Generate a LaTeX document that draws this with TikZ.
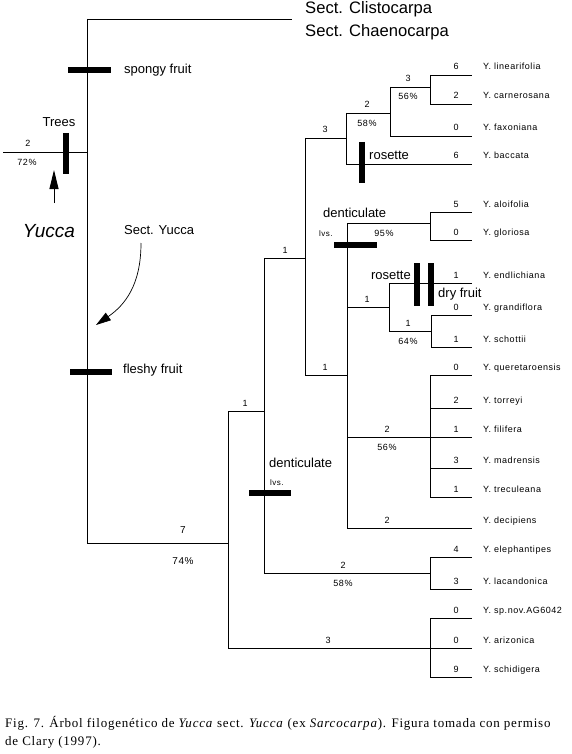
\documentclass[tikz,border=0pt]{standalone}
\usepackage{fontspec}
\setmainfont{Liberation Serif}
\newfontfamily\arial{Liberation Sans}
\newfontfamily\tipfont[LetterSpace=6]{Liberation Sans}
\newfontfamily\capfont[LetterSpace=6]{Liberation Serif}
\usetikzlibrary{arrows.meta}
\begin{document}
\begin{tikzpicture}[x=1pt,y=-1pt,
  br/.style={line width=0.9pt},
  bar/.style={line width=5.5pt},
  num/.style={font=\tipfont\fontsize{9}{10}\selectfont, inner sep=0pt, anchor=base},
  tip/.style={font=\tipfont\fontsize{9}{10}\selectfont, inner sep=0pt, anchor=base west},
  lab/.style={font=\arial\fontsize{13}{15}\selectfont, inner sep=0pt},
  small/.style={font=\tipfont\fontsize{8}{9}\selectfont, inner sep=0pt, anchor=base west},
  sect/.style={font=\arial\fontsize{16.6}{18}\selectfont, inner sep=0pt, anchor=west},
  captext/.style={font=\capfont\fontsize{13}{14}\selectfont, inner sep=0pt, anchor=base west}]
\useasboundingbox (0,0) rectangle (572,754);

% internal nodes
\coordinate (R0) at (3,152);
\coordinate (R) at (87,152);
\coordinate (top) at (292,19);
\coordinate (A) at (228,543);
\coordinate (B) at (264,411);
\coordinate (C) at (305,258);
\coordinate (D) at (346,138);
\coordinate (F) at (390,113);
\coordinate (H) at (430,87);
\coordinate (E) at (347,375);
\coordinate (I) at (430,223);
\coordinate (J) at (389,307);
\coordinate (L) at (431,331);
\coordinate (K) at (430,437);
\coordinate (G2) at (430,573);
\coordinate (G3) at (430,648);

% leaves
\foreach \n/\y/\v/\t in {
  lin/75/6/Y. linearifolia, car/104/2/Y. carnerosana, fax/136/0/Y. faxoniana,
  bac/164/6/Y. baccata, alo/212/5/Y. aloifolia, glo/240/0/Y. gloriosa,
  end/283/1/Y. endlichiana, gra/315/0/Y. grandiflora, sch/347/1/Y. schottii,
  que/375/0/Y. queretaroensis, tor/408/2/Y. torreyi, fil/437/1/Y. filifera,
  mad/468/3/Y. madrensis, tre/497/1/Y. treculeana,
  ele/557/4/Y. elephantipes, lac/589/3/Y. lacandonica,
  spn/618/0/Y. sp.nov.AG6042, ari/648/0/Y. arizonica, sci/677/9/Y. schidigera}{
  \coordinate (\n) at (472,\y);
  \node[num] (\n-v) at (456,\y-5) {\v};
  \node[tip] (\n-t) at (483,\y-5) {\t};
}
\coordinate (dec) at (472,528);
\node[tip] (dec-t) at (483,523) {Y. decipiens};

% branches
\draw[br] (R0) -- (R);
\draw[br] (R |- top) -- (top);
\draw[br] (R |- top) -- (R |- A) -- (A);
\draw[br] (A |- B) -- (B);
\draw[br] (A |- B) -- (A |- G3) -- (G3);
\draw[br] (B |- C) -- (C);
\draw[br] (B |- C) -- (B |- G2) -- (G2);
\draw[br] (C |- D) -- (D);
\draw[br] (C |- D) -- (C |- E) -- (E);
\draw[br] (D |- F) -- (F);
\draw[br] (D |- F) -- (D |- bac) -- (bac);
\draw[br] (F |- H) -- (H);
\draw[br] (F |- H) -- (F |- fax) -- (fax);
\draw[br] (H |- lin) -- (lin);
\draw[br] (H |- lin) -- (H |- car) -- (car);
\draw[br] (E |- I) -- (I);
\draw[br] (E |- I) -- (E |- dec) -- (dec);
\draw[br] (E |- J) -- (J);
\draw[br] (E |- K) -- (K);
\draw[br] (I |- alo) -- (alo);
\draw[br] (I |- alo) -- (I |- glo) -- (glo);
\draw[br] (J |- end) -- (end);
\draw[br] (J |- end) -- (J |- L) -- (L);
\draw[br] (L |- gra) -- (gra);
\draw[br] (L |- gra) -- (L |- sch) -- (sch);
\draw[br] (K |- que) -- (que);
\draw[br] (K |- que) -- (K |- tre) -- (tre);
\draw[br] (K |- tor) -- (tor);
\draw[br] (K |- fil) -- (fil);
\draw[br] (K |- mad) -- (mad);
\draw[br] (G2 |- ele) -- (ele);
\draw[br] (G2 |- ele) -- (G2 |- lac) -- (lac);
\draw[br] (G3 |- spn) -- (spn);
\draw[br] (G3 |- spn) -- (G3 |- sci) -- (sci);
\draw[br] (G3 |- ari) -- (ari);

% branch support labels
\node[num] (nR) at (28,147) {2};
\node[num] (pR) at (27,165.5) {72\%};
\node[num, font=\tipfont\fontsize{10}{11}\selectfont] (nA) at (183,533) {7};
\node[num, font=\tipfont\fontsize{10}{11}\selectfont] (pA) at (183,564) {74\%};
\node[num] (nB) at (245,406) {1};
\node[num] (nC) at (285,253) {1};
\node[num] (nD) at (325,133) {3};
\node[num] (nE) at (325,370) {1};
\node[num] (nF) at (367,108) {2};
\node[num] (pF) at (367,126.5) {58\%};
\node[num] (nH) at (408,82) {3};
\node[num] (pH) at (408,100) {56\%};
\node[num] (pI) at (384,236.5) {95\%};
\node[num] (nJ) at (367,302) {1};
\node[num] (nL) at (408,326) {1};
\node[num] (pL) at (408,344.5) {64\%};
\node[num] (nK) at (387,432) {2};
\node[num] (pK) at (387,450.5) {56\%};
\node[num] (ndec) at (387,523) {2};
\node[num] (nG2) at (343,568) {2};
\node[num] (pG2) at (343,586.5) {58\%};
\node[num] (nG3) at (328,643) {3};

% character bars
\draw[bar] (68,70) -- (111,70);
\draw[bar] (66,133) -- (66,174);
\draw[bar] (70,372) -- (112,372);
\draw[bar] (362,142) -- (362,183);
\draw[bar] (334,245) -- (377,245);
\draw[bar] (417,263) -- (417,306);
\draw[bar] (431,263) -- (431,306);
\draw[bar] (249,493) -- (291,493);

% labels
\node[sect] (s1) at (305,9) {Sect. Clistocarpa};
\node[sect] (s2) at (305,32) {Sect. Chaenocarpa};
\node[lab, anchor=west] (spongy) at (124,70) {spongy fruit};
\node[lab] (trees) at (59,122) {Trees};
\node[font=\arial\itshape\fontsize{19}{21}\selectfont, inner sep=0pt] (yucca) at (49,231) {Yucca};
\node[lab, anchor=west] (sy) at (124,230) {Sect. Yucca};
\node[lab, anchor=west] (fleshy) at (123,370) {fleshy fruit};
\node[lab, anchor=west] (den1) at (323,213) {denticulate};
\node[small] (lvs1) at (319,236) {lvs.};
\node[lab, anchor=west] (ros1) at (369,155) {rosette};
\node[lab, anchor=east] (ros2) at (411,275) {rosette};
\node[lab, anchor=west] (dry) at (438,294) {dry fruit};
\node[lab, anchor=west] (den2) at (269,463) {denticulate};
\node[small] (lvs2) at (270,485) {lvs.};

% arrows
\coordinate (ua1) at (54,203);
\coordinate (ua2) at (54,170);
\draw[br, -{Triangle[length=19pt,width=9pt]}] (ua1) -- (ua2);
\coordinate (ca1) at (141,243);
\coordinate (ca2) at (96,325);
\draw[line width=0.7pt, -{Triangle[length=15pt,width=9pt]}] (ca1) .. controls (141,285) and (125,305) .. (ca2);

% caption
\node[captext] (cap1) at (5,727) {Fig. 7. Árbol filogenético de \textit{Yucca} sect. \textit{Yucca} (ex \textit{Sarcocarpa}). Figura tomada con permiso};
\node[captext] (cap2) at (5,745) {de Clary (1997).};
\end{tikzpicture}
\end{document}
